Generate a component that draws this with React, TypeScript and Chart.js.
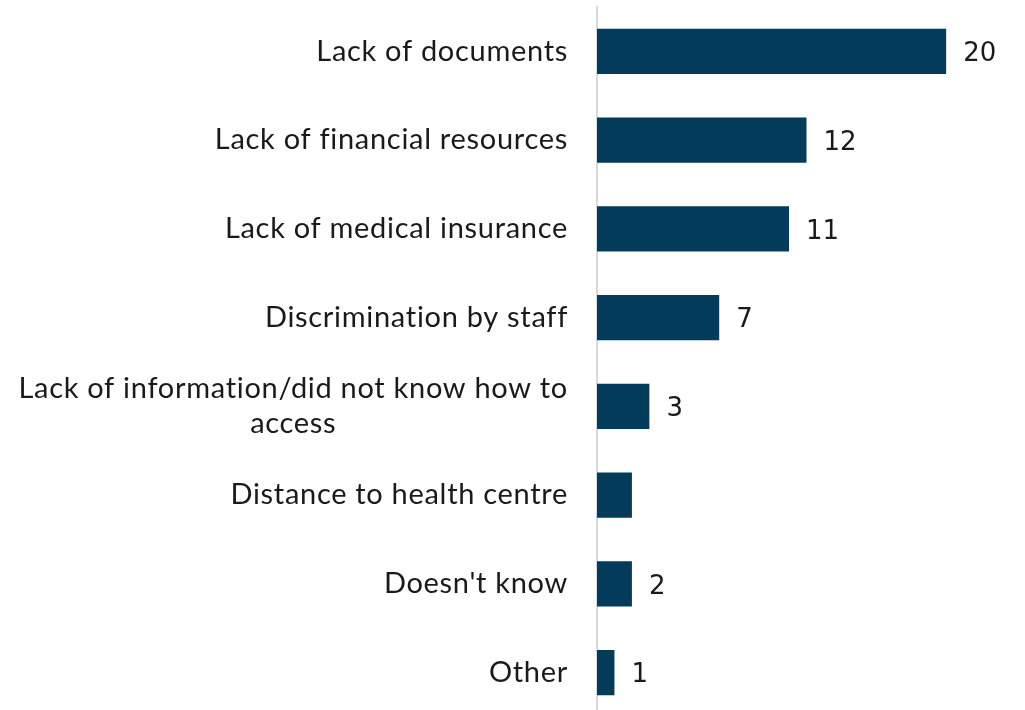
import React, { useEffect, useRef } from "react";
import { Chart, registerables } from "chart.js";

Chart.register(...registerables);

const categories: string[][] = [
  ["Lack of documents"],
  ["Lack of financial resources"],
  ["Lack of medical insurance"],
  ["Discrimination by staff"],
  ["Lack of information/did not know how to", "access"],
  ["Distance to health centre"],
  ["Doesn't know"],
  ["Other"],
];
const values: number[] = [20, 12, 11, 7, 3, 2, 2, 1];
const showValueLabel: boolean[] = [true, true, true, true, true, false, true, true];

const LABEL_FONT = "29px Lato, 'Open Sans', sans-serif";
const VALUE_FONT = "26px 'DejaVu Sans', sans-serif";
const TEXT_COLOR = "#1a1a1a";
const BAR_COLOR = "#023c5a";

const labelsPlugin = {
  id: "customLabels",
  afterDraw(chart: any) {
    const ctx = chart.ctx;
    const yScale = chart.scales.y;
    const meta = chart.getDatasetMeta(0);
    ctx.save();
    ctx.font = LABEL_FONT;
    (ctx as any).letterSpacing = "0.7px";
    ctx.fillStyle = TEXT_COLOR;
    ctx.textBaseline = "middle";
    const rightEdge = chart.chartArea.left - 29;
    const lineHeight = 35;
    categories.forEach((lines, i) => {
      const yc = yScale.getPixelForTick(i);
      const widths = lines.map((l) => ctx.measureText(l).width);
      const maxW = Math.max(...widths);
      const blockCenter = rightEdge - maxW / 2;
      ctx.textAlign = "center";
      lines.forEach((l, j) => {
        const y = yc + (j - (lines.length - 1) / 2) * lineHeight;
        ctx.fillText(l, blockCenter, y);
      });
    });
    (ctx as any).letterSpacing = "0px";
    ctx.font = VALUE_FONT;
    ctx.textAlign = "left";
    meta.data.forEach((bar: any, i: number) => {
      if (!showValueLabel[i]) return;
      ctx.fillText(String(values[i]), bar.x + 17, bar.y + 3);
    });
    ctx.restore();
  },
};

export default function App() {
  const ref = useRef<HTMLCanvasElement>(null);
  useEffect(() => {
    if (!ref.current) return;
    const chart = new Chart(ref.current, {
      type: "bar",
      data: {
        labels: categories.map((c) => c.join(" ")),
        datasets: [
          {
            data: values,
            backgroundColor: BAR_COLOR,
            categoryPercentage: 1,
            barPercentage: 0.51,
          },
        ],
      },
      options: {
        indexAxis: "y",
        responsive: false,
        animation: false,
        layout: { padding: { left: 597, top: 7, right: 9, bottom: 0 } },
        plugins: { legend: { display: false }, tooltip: { enabled: false } },
        scales: {
          x: { display: false, min: 0, max: 24 },
          y: {
            grid: { display: false },
            ticks: { display: false },
            border: { display: true, color: "#d9d9d9", width: 2 },
            afterFit(scale: any) {
              scale.width = 0;
            },
          },
        },
      },
      plugins: [labelsPlugin],
    });
    return () => chart.destroy();
  }, []);
  return (
    <div style={{ position: "absolute", left: 0, top: 0, width: 1025, height: 710, overflow: "hidden", background: "#fff" }}>
      <canvas ref={ref} width={1025} height={717} style={{ display: "block" }} />
    </div>
  );
}
